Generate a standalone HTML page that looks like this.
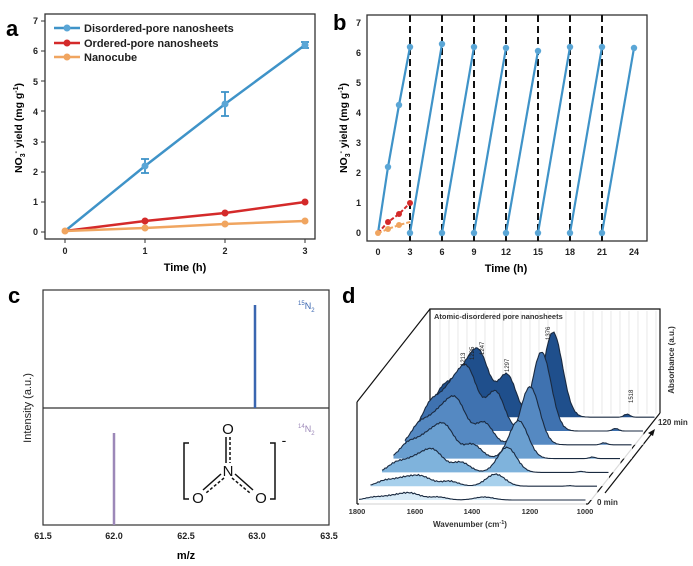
<!DOCTYPE html>
<html><head><meta charset="utf-8"><style>
body{margin:0;background:#fff}
svg{display:block}
text{font-family:"Liberation Sans",Arial,sans-serif}
</style></head><body>
<svg id="s" width="693" height="566" viewBox="0 0 693 566" xmlns="http://www.w3.org/2000/svg">
<rect width="693" height="566" fill="#fff"/>
<!-- Panel a -->
<text x="6" y="36" font-size="22" font-weight="bold">a</text>
<rect x="45" y="14" width="270" height="225" fill="none" stroke="#333" stroke-width="1.3"/>
<g font-size="9" font-weight="bold" text-anchor="end" fill="#222">
<text x="38" y="235">0</text><text x="38" y="205">1</text><text x="38" y="175">2</text><text x="38" y="145">3</text><text x="38" y="115">4</text><text x="38" y="85">5</text><text x="38" y="54">6</text><text x="38" y="24">7</text>
</g>
<g stroke="#333" stroke-width="1"><line x1="45" y1="232" x2="41" y2="232"/><line x1="45" y1="202" x2="41" y2="202"/><line x1="45" y1="172" x2="41" y2="172"/><line x1="45" y1="142" x2="41" y2="142"/><line x1="45" y1="111" x2="41" y2="111"/><line x1="45" y1="81" x2="41" y2="81"/><line x1="45" y1="51" x2="41" y2="51"/><line x1="45" y1="21" x2="41" y2="21"/>
<line x1="65" y1="239" x2="65" y2="243"/><line x1="145" y1="239" x2="145" y2="243"/><line x1="225" y1="239" x2="225" y2="243"/><line x1="305" y1="239" x2="305" y2="243"/></g>
<g font-size="9" font-weight="bold" text-anchor="middle" fill="#222"><text x="65" y="254">0</text><text x="145" y="254">1</text><text x="225" y="254">2</text><text x="305" y="254">3</text></g>
<text x="185" y="271" font-size="11" font-weight="bold" text-anchor="middle">Time (h)</text>
<text transform="translate(22,128) rotate(-90)" font-size="10.5" font-weight="bold" text-anchor="middle">NO<tspan font-size="7" dy="3">3</tspan><tspan font-size="7" dy="-7">-</tspan><tspan dy="4"> yield (mg g</tspan><tspan font-size="7" dy="-4">-1</tspan><tspan dy="4">)</tspan></text>
<polyline points="65,231 145,166 225,104 305,45" fill="none" stroke="#3f93c8" stroke-width="2.5"/>
<polyline points="65,231 145,221 225,213 305,202" fill="none" stroke="#d42a2a" stroke-width="2.5"/>
<polyline points="65,231 145,228 225,224 305,221" fill="none" stroke="#f0a560" stroke-width="2.5"/>
<g stroke="#3f93c8" stroke-width="1.8"><line x1="145" y1="159" x2="145" y2="173"/><line x1="141" y1="159" x2="149" y2="159"/><line x1="141" y1="173" x2="149" y2="173"/>
<line x1="225" y1="92" x2="225" y2="116"/><line x1="221" y1="92" x2="229" y2="92"/><line x1="221" y1="116" x2="229" y2="116"/>
<line x1="305" y1="42" x2="305" y2="48"/><line x1="301" y1="42" x2="309" y2="42"/><line x1="301" y1="48" x2="309" y2="48"/></g>
<g fill="#f0a560"><circle cx="65" cy="231" r="3.5"/><circle cx="145" cy="228" r="3.5"/><circle cx="225" cy="224" r="3.5"/><circle cx="305" cy="221" r="3.5"/></g>
<g fill="#d42a2a"><circle cx="145" cy="221" r="3.5"/><circle cx="225" cy="213" r="3.5"/><circle cx="305" cy="202" r="3.5"/></g>
<g fill="#5aa6d6"><circle cx="145" cy="166" r="3.5"/><circle cx="225" cy="104" r="3.5"/><circle cx="305" cy="45" r="3.5"/></g>
<line x1="54" y1="28" x2="80" y2="28" stroke="#3f93c8" stroke-width="2.5"/><circle cx="67" cy="28" r="3.5" fill="#5aa6d6"/>
<line x1="54" y1="43" x2="80" y2="43" stroke="#d42a2a" stroke-width="2.5"/><circle cx="67" cy="43" r="3.5" fill="#d42a2a"/>
<line x1="54" y1="57" x2="80" y2="57" stroke="#f0a560" stroke-width="2.5"/><circle cx="67" cy="57" r="3.5" fill="#f0a560"/>
<g font-size="11" font-weight="bold" fill="#222"><text x="84" y="32">Disordered-pore nanosheets</text><text x="84" y="47">Ordered-pore nanosheets</text><text x="84" y="61">Nanocube</text></g>

<!-- Panel b -->
<text x="333" y="30" font-size="22" font-weight="bold">b</text>
<rect x="367" y="15" width="280" height="226" fill="none" stroke="#333" stroke-width="1.3"/>
<g font-size="9" font-weight="bold" text-anchor="end" fill="#222">
<text x="361" y="236">0</text><text x="361" y="206">1</text><text x="361" y="176">2</text><text x="361" y="146">3</text><text x="361" y="116">4</text><text x="361" y="86">5</text><text x="361" y="56">6</text><text x="361" y="26">7</text></g>
<text transform="translate(347,128) rotate(-90)" font-size="10.5" font-weight="bold" text-anchor="middle">NO<tspan font-size="7" dy="3">3</tspan><tspan font-size="7" dy="-7">-</tspan><tspan dy="4"> yield (mg g</tspan><tspan font-size="7" dy="-4">-1</tspan><tspan dy="4">)</tspan></text>
<g font-size="9" font-weight="bold" text-anchor="middle" fill="#222"><text x="378" y="255">0</text><text x="410" y="255">3</text><text x="442" y="255">6</text><text x="474" y="255">9</text><text x="506" y="255">12</text><text x="538" y="255">15</text><text x="570" y="255">18</text><text x="602" y="255">21</text><text x="634" y="255">24</text></g>
<text x="506" y="272" font-size="11" font-weight="bold" text-anchor="middle">Time (h)</text>
<g stroke="#111" stroke-width="2" stroke-dasharray="7,4"><line x1="410" y1="15" x2="410" y2="241"/><line x1="442" y1="15" x2="442" y2="241"/><line x1="474" y1="15" x2="474" y2="241"/><line x1="506" y1="15" x2="506" y2="241"/><line x1="538" y1="15" x2="538" y2="241"/><line x1="570" y1="15" x2="570" y2="241"/><line x1="602" y1="15" x2="602" y2="241"/></g>
<g stroke="#3f93c8" stroke-width="2.2" fill="none">
<polyline points="378,233 388,167 399,105 410,47"/><line x1="410" y1="233" x2="442" y2="44"/><line x1="442" y1="233" x2="474" y2="47"/><line x1="474" y1="233" x2="506" y2="48"/><line x1="506" y1="233" x2="538" y2="51"/><line x1="538" y1="233" x2="570" y2="47"/><line x1="570" y1="233" x2="602" y2="47"/><line x1="602" y1="233" x2="634" y2="48"/></g>
<polyline points="378,233 388,222 399,214 410,203" fill="none" stroke="#d42a2a" stroke-width="2" stroke-dasharray="4,2"/>
<polyline points="378,233 388,229 399,225 410,222" fill="none" stroke="#f0a560" stroke-width="2" stroke-dasharray="4,2"/>
<g fill="#5aa6d6"><circle cx="388" cy="167" r="3.2"/><circle cx="399" cy="105" r="3.2"/><circle cx="410" cy="47" r="3.2"/><circle cx="442" cy="44" r="3.2"/><circle cx="474" cy="47" r="3.2"/><circle cx="506" cy="48" r="3.2"/><circle cx="538" cy="51" r="3.2"/><circle cx="570" cy="47" r="3.2"/><circle cx="602" cy="47" r="3.2"/><circle cx="634" cy="48" r="3.2"/>
<circle cx="410" cy="233" r="3.2"/><circle cx="442" cy="233" r="3.2"/><circle cx="474" cy="233" r="3.2"/><circle cx="506" cy="233" r="3.2"/><circle cx="538" cy="233" r="3.2"/><circle cx="570" cy="233" r="3.2"/><circle cx="602" cy="233" r="3.2"/></g>
<g fill="#d42a2a"><circle cx="388" cy="222" r="3"/><circle cx="399" cy="214" r="3"/><circle cx="410" cy="203" r="3"/></g>
<g fill="#f0a560"><circle cx="378" cy="233" r="3"/><circle cx="388" cy="229" r="3"/><circle cx="399" cy="225" r="3"/></g>

<!-- Panel c -->
<text x="8" y="303" font-size="22" font-weight="bold">c</text>
<rect x="43" y="290" width="286" height="235" fill="none" stroke="#333" stroke-width="1.2"/>
<line x1="43" y1="408" x2="329" y2="408" stroke="#333" stroke-width="1.2"/>
<line x1="255" y1="305" x2="255" y2="408" stroke="#3a66b0" stroke-width="2.5"/>
<line x1="114" y1="433" x2="114" y2="525" stroke="#9c88b8" stroke-width="2.5"/>
<text x="298" y="309" font-size="9" fill="#3a66b0"><tspan font-size="6" dy="-4">15</tspan><tspan dy="4">N</tspan><tspan font-size="6" dy="3">2</tspan></text>
<text x="298" y="432" font-size="9" fill="#9c88b8"><tspan font-size="6" dy="-4">14</tspan><tspan dy="4">N</tspan><tspan font-size="6" dy="3">2</tspan></text>
<text transform="translate(31,408) rotate(-90)" font-size="11" text-anchor="middle" fill="#222">Intensity (a.u.)</text>
<g font-size="9" font-weight="bold" text-anchor="middle" fill="#222"><text x="43" y="539">61.5</text><text x="114" y="539">62.0</text><text x="186" y="539">62.5</text><text x="257" y="539">63.0</text><text x="329" y="539">63.5</text></g>
<text x="186" y="559" font-size="11" font-weight="bold" text-anchor="middle">m/z</text>
<g stroke="#111" stroke-width="1.5" fill="none">
<polyline points="189,443 184,443 184,499 189,499"/><polyline points="270,443 275,443 275,499 270,499"/>
<line x1="226" y1="437" x2="226" y2="463"/><line x1="230" y1="437" x2="230" y2="463" stroke-dasharray="3,2"/>
<line x1="221" y1="474" x2="203" y2="490"/><line x1="224" y1="478" x2="206" y2="493" stroke-dasharray="3,2"/>
<line x1="235" y1="474" x2="253" y2="490"/><line x1="232" y1="478" x2="250" y2="493" stroke-dasharray="3,2"/></g>
<g font-size="15" fill="#111" text-anchor="middle"><text x="228" y="434">O</text><text x="228" y="476">N</text><text x="198" y="503">O</text><text x="261" y="503">O</text><text x="284" y="445" font-size="14">-</text></g>

<!-- Panel d -->
<text x="342" y="303" font-size="22" font-weight="bold">d</text>
<g id="dgrid" stroke="#e2e2e2" stroke-width="0.8"></g>
<g stroke="#111" stroke-width="1.2" fill="none">
<polyline points="430,417 430,309 660,309 660,413"/>
<line x1="357" y1="402" x2="430" y2="309"/><line x1="357" y1="402" x2="357" y2="504"/>
<line x1="357" y1="504" x2="588" y2="504"/><line x1="588" y1="504" x2="660" y2="413"/>
<line x1="605" y1="493" x2="653" y2="432"/></g>
<polygon points="655,429 648,433 653,436" fill="#111"/>
<g id="dtr"></g>
<text x="434" y="319" font-size="7.5" font-weight="bold" fill="#333">Atomic-disordered pore nanosheets</text>
<g font-size="6" fill="#222">
<text transform="translate(465,366) rotate(-90)">1213</text><text transform="translate(474,360) rotate(-90)">1225</text><text transform="translate(484,355) rotate(-90)">1247</text><text transform="translate(509,372) rotate(-90)">1297</text><text transform="translate(550,340) rotate(-90)">1376</text><text transform="translate(633,403) rotate(-90)">1518</text></g>
<text transform="translate(674,360) rotate(-90)" font-size="8" font-weight="bold" text-anchor="middle" fill="#333">Absorbance (a.u.)</text>
<text x="658" y="425" font-size="8" font-weight="bold" fill="#333">120 min</text>
<text x="597" y="505" font-size="8" font-weight="bold" fill="#333">0 min</text>
<g font-size="7.5" font-weight="bold" text-anchor="middle" fill="#333"><text x="357" y="514">1800</text><text x="415" y="514">1600</text><text x="472" y="514">1400</text><text x="530" y="514">1200</text><text x="585" y="514">1000</text></g>
<text x="470" y="527" font-size="8" font-weight="bold" text-anchor="middle" fill="#333">Wavenumber (cm<tspan font-size="5.5" dy="-3">-1</tspan><tspan dy="3">)</tspan></text>
</svg>
<script>
(function(){
var NS="http://www.w3.org/2000/svg";
var g=document.getElementById('dgrid');
for(var x=440;x<660;x+=9){var l=document.createElementNS(NS,'line');l.setAttribute('x1',x);l.setAttribute('x2',x);l.setAttribute('y1',311);l.setAttribute('y2',414);g.appendChild(l);}
var tr=document.getElementById('dtr');
var H1=[3,12,25,38,58,79,85],H2=[6,8,19,28,38,52,55],H3=[3,5,10,14,22,39,42],H4=[4,8,14,22,30,40,40];
var cols=['#d8ebf7','#a7d0ec','#7fb3dc','#6a9fd0','#5589c2','#3f72b0','#1f4f8c'];
function gs(x,m,s){return Math.exp(-(x-m)*(x-m)/(2*s*s));}
for(var k=0;k<7;k++){
 var by=500-k*13.8,ox=k*11.5,pts=[];
 for(var x=359;x<=586;x+=1.5){
  var h=H1[k]*gs(x,484,9.5)+H2[k]*gs(x,411,10)+H3[k]*gs(x,438,9)+H4[k]*gs(x,392,12)+0.5*H4[k]*gs(x,372,8)+(k>0?3*gs(x,558,3)*k/6:0);
  h+=Math.sin(x*1.7+k)*0.6*Math.min(1,h/5);
  pts.push((x+ox).toFixed(1)+','+(by-Math.max(0,h)).toFixed(1));
 }
 var p=document.createElementNS(NS,'polygon');
 p.setAttribute('points',(359+ox)+','+by+' '+pts.join(' ')+' '+(586+ox)+','+by);
 p.setAttribute('fill',cols[k]);p.setAttribute('stroke','none');tr.insertBefore(p,tr.firstChild);
 var pl=document.createElementNS(NS,'polyline');
 pl.setAttribute('points',pts.join(' '));pl.setAttribute('fill','none');pl.setAttribute('stroke','#1a2a40');pl.setAttribute('stroke-width','1.1');
 tr.insertBefore(pl,p.nextSibling);
 var w=document.createElementNS(NS,'rect');w.setAttribute('x',359+ox);w.setAttribute('y',by);w.setAttribute('width',227);w.setAttribute('height',13.8);w.setAttribute('fill','#fff');w.setAttribute('fill-opacity','0.85');
 if(k<6)tr.insertBefore(w,tr.firstChild);
}
})();
</script>
</body></html>
